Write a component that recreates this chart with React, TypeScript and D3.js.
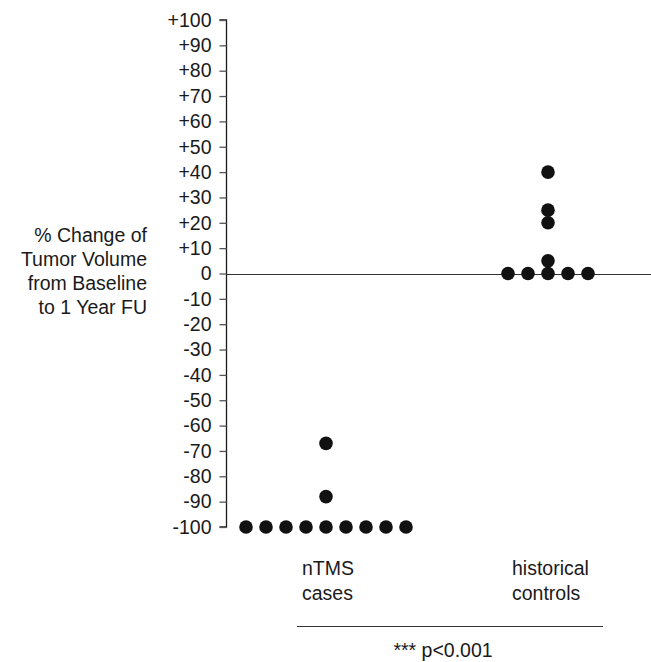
import React, { useEffect, useRef } from "react";
import * as d3 from "d3";

// groups and their values (% change at 1 year FU)
const GROUPS = ["nTMS cases", "historical controls"];
const NTMS_VALUES = [-100, -100, -100, -100, -100, -100, -100, -100, -100, -88, -67];
const CONTROL_VALUES = [0, 0, 0, 0, 0, 5, 20, 25, 40];
const Y_TICKS = [100, 90, 80, 70, 60, 50, 40, 30, 20, 10, 0, -10, -20, -30, -40, -50, -60, -70, -80, -90, -100];
const Y_TITLE = ["% Change of", "Tumor Volume", "from Baseline", "to 1 Year FU"];
const P_LABEL = "*** p<0.001";

const W = 651;
const H = 662;
const FONT = "Liberation Sans, Arial, sans-serif";
const FS = "19.5px";
const INK = "#1a1a1a";

const App = () => {
    const svgRef = useRef<SVGSVGElement>(null);

    useEffect(() => {
        if (!svgRef.current) return;
        const svg = d3.select(svgRef.current);
        svg.selectAll("*").remove();

        const axisX = 226.5;
        const y = d3.scaleLinear().domain([-100, 100]).range([527, 20]);
        const x = d3.scalePoint<string>().domain(GROUPS).range([326, 548]);

        // ── Zero line ────────────────────────────────────────────────
        svg.append("line")
            .attr("x1", axisX).attr("x2", W)
            .attr("y1", Math.round(y(0)) + 0.5).attr("y2", Math.round(y(0)) + 0.5)
            .attr("stroke", "#333").attr("stroke-width", 1.2);

        // ── Y axis ───────────────────────────────────────────────────
        svg.append("g")
            .attr("transform", `translate(${axisX},0)`)
            .call(d3.axisLeft(y).tickValues(Y_TICKS).tickSize(7).tickPadding(8)
                .tickFormat(d => (+d > 0 ? `+${d}` : `${d}`)))
            .call(ax => ax.select(".domain").attr("stroke", INK).attr("stroke-width", 1.3)
                .attr("d", `M-7,${y(100)}H0V${y(-100)}H-7`))
            .call(ax => ax.selectAll(".tick line").attr("stroke", "#555").attr("stroke-width", 1.3))
            .call(ax => ax.selectAll(".tick text")
                .attr("fill", INK)
                .attr("font-size", FS)
                .attr("font-family", FONT));

        // ── Y title ──────────────────────────────────────────────────
        const title = svg.append("text")
            .attr("text-anchor", "end")
            .attr("font-size", FS)
            .attr("font-family", FONT)
            .attr("fill", INK);
        Y_TITLE.forEach((line, i) => {
            title.append("tspan").attr("x", 147).attr("y", 242 + i * 24).text(line);
        });

        // ── Dots ─────────────────────────────────────────────────────
        const spacing = 20;
        [NTMS_VALUES, CONTROL_VALUES].forEach((values, gi) => {
            const cx = x(GROUPS[gi]) as number;
            const counts = d3.rollup(values, v => v.length, v => v);
            const seen = new Map<number, number>();
            values.forEach(v => {
                const n = counts.get(v) || 1;
                const k = seen.get(v) || 0;
                seen.set(v, k + 1);
                svg.append("circle")
                    .attr("cx", cx + (k - (n - 1) / 2) * spacing)
                    .attr("cy", y(v))
                    .attr("r", 6.8)
                    .attr("fill", "#111");
            });
        });

        // ── Category labels ──────────────────────────────────────────
        const catOffsets = [-24, -36];
        GROUPS.forEach((g, gi) => {
            const words = g.split(" ");
            const t = svg.append("text")
                .attr("font-size", FS)
                .attr("font-family", FONT)
                .attr("fill", INK);
            words.forEach((w, wi) => {
                t.append("tspan")
                    .attr("x", (x(g) as number) + catOffsets[gi])
                    .attr("y", 575 + wi * 25)
                    .text(w);
            });
        });

        // ── Significance bracket ─────────────────────────────────────
        svg.append("line")
            .attr("x1", 297).attr("x2", 603)
            .attr("y1", 626.5).attr("y2", 626.5)
            .attr("stroke", "#333").attr("stroke-width", 1);
        svg.append("text")
            .attr("x", 443).attr("y", 657)
            .attr("text-anchor", "middle")
            .attr("font-size", FS)
            .attr("font-family", FONT)
            .attr("fill", INK)
            .text(P_LABEL);
    }, []);

    return (
        <svg
            ref={svgRef}
            width={W}
            height={H}
            style={{ position: "absolute", left: 0, top: 0, background: "#fff" }}
        />
    );
};

export default App;
